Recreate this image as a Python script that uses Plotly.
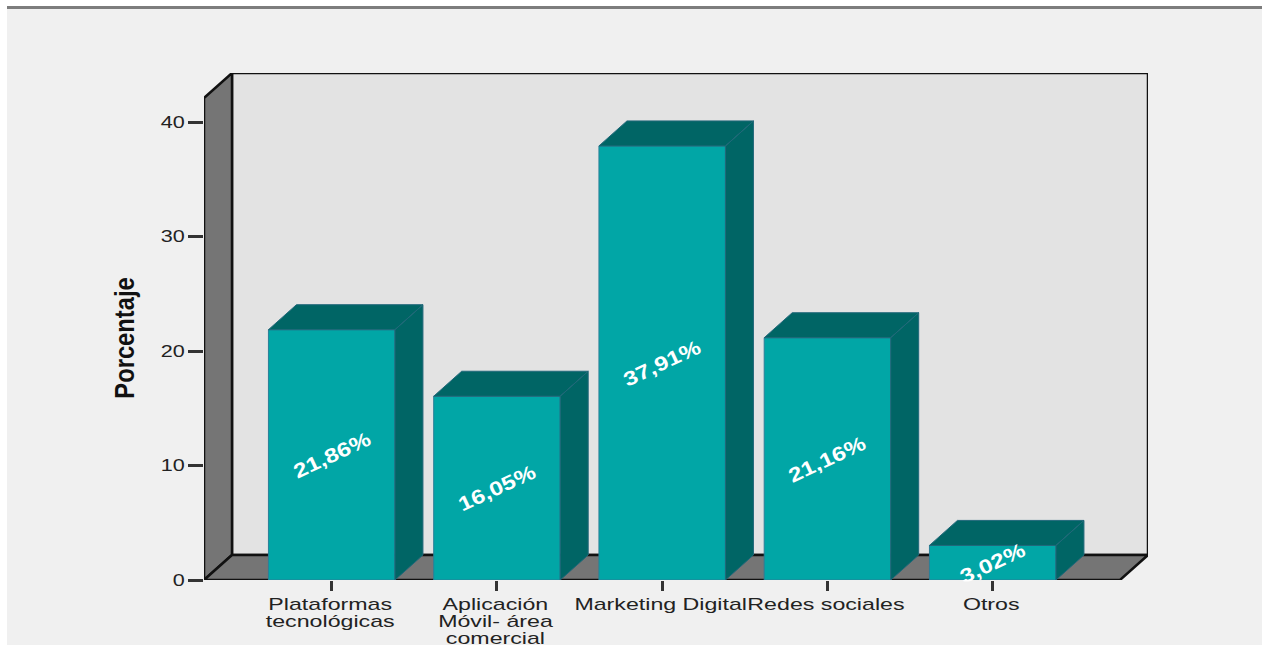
import plotly.graph_objects as go

categories = ["Plataformas<br>tecnológicas", "Aplicación<br>Móvil- área<br>comercial",
              "Marketing Digital", "Redes sociales", "Otros"]
values = [21.86, 16.05, 37.91, 21.16, 3.02]
y_ticks = [0, 10, 20, 30, 40]
y_title = "Porcentaje"

W, H = 1269, 646
L, R, T, B = 204, 1148, 73, 580          # plot rectangle in pixels
PX_X = 165.25                            # pixels per category
PX_Y = 11.45                             # pixels per percent
X0 = 331.7                               # pixel of first category
DX = 28 / PX_X                           # depth of the 3D effect in axis units
DY = 25 / PX_Y
BAR_W = 126.5 / PX_X

x_min = (L - X0) / PX_X
x_max = (R - X0) / PX_X
y_max = (B - T) / PX_Y
floor_right = x_max - DX
wall_top = y_max - DY

TEAL, TEAL_DARK, EDGE = "#01a6a6", "#006565", "#2b7f98"
WALL, BACK, PANEL, INK = "#757575", "#e3e3e3", "#f0f0f0", "#222222"


def poly(pts):
    return "M" + " L".join(f"{x},{y}" for x, y in pts) + " Z"


wall_line = dict(color="#111111", width=2.5)
shapes = [
    dict(type="rect", xref="paper", yref="paper", layer="below", line_width=0, fillcolor=PANEL,
         x0=(7 - L) / (R - L), x1=(1262 - L) / (R - L),
         y0=(B - 645) / (B - T), y1=(B - 9) / (B - T)),
    dict(type="rect", xref="paper", yref="paper", layer="below", line_width=0, fillcolor="#7d7d7d",
         x0=(7 - L) / (R - L), x1=(1262 - L) / (R - L),
         y0=(B - 9) / (B - T), y1=(B - 6) / (B - T)),
    dict(type="path", layer="below", fillcolor=BACK, line=wall_line,
         path=poly([(x_min + DX, DY), (x_max, DY), (x_max, y_max), (x_min + DX, y_max)])),
    dict(type="path", layer="below", fillcolor=WALL, line=wall_line,
         path=poly([(x_min, 0), (x_min + DX, DY), (x_min + DX, y_max), (x_min, wall_top)])),
    dict(type="path", layer="below", fillcolor=WALL, line=wall_line,
         path=poly([(x_min, 0), (x_min + DX, DY), (x_max, DY), (floor_right, 0)])),
]

fig = go.Figure()
idx = list(range(len(values)))
fig.add_trace(go.Bar(x=idx, y=values, width=BAR_W, marker=dict(color=TEAL, line=dict(color=EDGE, width=1)),
                     showlegend=False, hoverinfo="skip"))

for i, v in zip(idx, values):
    left, right = i - BAR_W / 2, i + BAR_W / 2
    fig.add_trace(go.Scatter(
        x=[left, left + DX, right + DX, right, left], y=[v, v + DY, v + DY, v, v],
        mode="lines", fill="toself", fillcolor=TEAL_DARK, line=dict(color="#22687a", width=1),
        showlegend=False, hoverinfo="skip", cliponaxis=False))
    fig.add_trace(go.Scatter(
        x=[right, right + DX, right + DX, right, right], y=[0, DY, v + DY, v, 0],
        mode="lines", fill="toself", fillcolor=TEAL_DARK, line=dict(color="#22687a", width=1),
        showlegend=False, hoverinfo="skip", cliponaxis=False))

annotations = [
    dict(x=i, y=v / 2, text=f"{v:.2f}%".replace(".", ","), showarrow=False, textangle=-25,
         font=dict(family="Liberation Sans", size=20, color="white", weight="bold"))
    for i, v in zip(idx, values)
]
annotations.append(dict(
    xref="paper", x=(125 - L) / (R - L), y=(B - 338) / PX_Y, xanchor="center", yanchor="middle",
    text=f"<b>{y_title}</b>", showarrow=False,
    textangle=-90, font=dict(family="Liberation Sans", size=27, color="#111111")))

fig.update_layout(
    width=W, height=H, margin=dict(l=L, r=W - R, t=T, b=H - B, autoexpand=False),
    paper_bgcolor="white", plot_bgcolor="rgba(0,0,0,0)",
    shapes=shapes, annotations=annotations, showlegend=False,
    font=dict(family="Liberation Sans", size=16, color=INK),
    xaxis=dict(range=[x_min, x_max], tickmode="array", tickvals=idx, ticktext=categories, tickangle=0,
               automargin=False, showgrid=False, zeroline=False, showline=False, ticks="outside",
               ticklen=10, tickwidth=2.5, tickcolor="#333333",
               tickfont=dict(family="Liberation Sans", size=16, color=INK)),
    yaxis=dict(range=[0, y_max], tickmode="array", tickvals=y_ticks, automargin=False, showgrid=False,
               zeroline=False, showline=False, ticks="outside", ticklen=15, tickwidth=2.5,
               tickcolor="#333333", tickfont=dict(family="Liberation Sans", size=16, color=INK)),
)

post = """
document.documentElement.style.overflow = 'hidden';
document.body.style.margin = '0';
function stretch(el, k, dx) {
  var x = parseFloat(el.getAttribute('x')) || 0;
  var t = el.getAttribute('transform') || '';
  el.setAttribute('transform', t + ' translate(' + (x + (dx || 0)) + ' 0) scale(' + k + ' 1) translate(' + (-x) + ' 0)');
}
document.querySelectorAll('.xtick text').forEach(function (el) {
  stretch(el, 1.45, -1.5);
  el.querySelectorAll('tspan.line').forEach(function (s, n) {
    s.setAttribute('dy', (17 * n) + 'px');
  });
});
document.querySelectorAll('.ytick text').forEach(function (el) { stretch(el, 1.35); });
document.querySelectorAll('.annotation').forEach(function (g) {
  var el = g.querySelector('text');
  if (el.textContent.indexOf('%') < 0) { stretch(el, 0.88); return; }
  stretch(el, 1.22);
  var box = g.getBoundingClientRect();
  var over = box.bottom - 581;
  if (over > 0) { g.style.clipPath = 'inset(0 0 ' + over + 'px 0)'; }
});
"""
fig.write_html("out.html", post_script=post, config={"displayModeBar": False})
